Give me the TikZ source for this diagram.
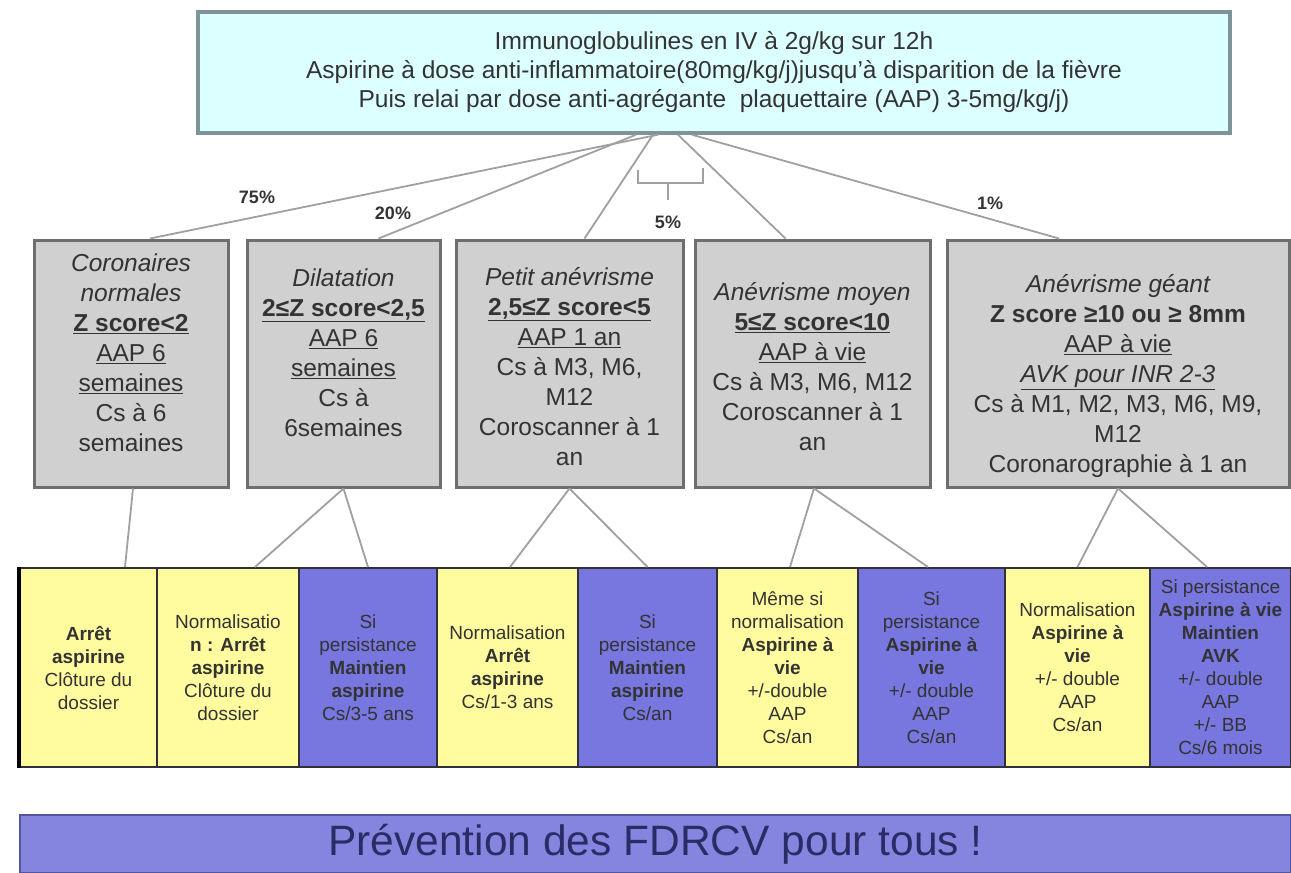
\documentclass[tikz,border=0pt]{standalone}
\usepackage{fontspec}
\setmainfont{Liberation Sans}
\usetikzlibrary{calc}
\definecolor{topfill}{HTML}{DCFFFF}
\definecolor{topline}{HTML}{7F9498}
\definecolor{grayfill}{HTML}{D0D0D0}
\definecolor{grayline}{HTML}{6E6E6E}
\definecolor{yel}{HTML}{FFFB9E}
\definecolor{blu}{HTML}{7777DF}
\definecolor{boxline}{HTML}{30303A}
\definecolor{conn}{HTML}{A0A0A0}
\definecolor{banfill}{HTML}{8585E0}
\definecolor{banline}{HTML}{55559A}
\definecolor{bantext}{HTML}{2B2B66}
\definecolor{txt}{HTML}{333333}
\begin{document}
\begin{tikzpicture}[x=1pt,y=-1pt,
  topbox/.style={draw=topline, line width=3.5pt, fill=topfill, minimum width=1032pt, minimum height=121pt, inner sep=0pt, align=center, text=txt, font=\fontsize{24.5}{29}\selectfont},
  graybox/.style={draw=grayline, line width=3pt, fill=grayfill, minimum height=247pt, inner sep=0pt},
  graytext/.style={inner sep=0pt, align=center, text=txt, font=\fontsize{24.5}{30}\selectfont},
  botbox/.style={draw=boxline, line width=2pt, minimum height=199pt, inner sep=0pt, align=center, text=txt, font=\fontsize{19}{23}\selectfont},
  yelbox/.style={botbox, fill=yel},
  blubox/.style={botbox, fill=blu},
  pct/.style={font=\fontsize{18}{20}\selectfont\bfseries, text=txt, inner sep=1pt},
  conline/.style={draw=conn, line width=1.8pt},
  banner/.style={draw=banline, line width=2pt, fill=banfill, minimum width=1271pt, minimum height=58pt, inner sep=0pt, text=bantext, font=\fontsize{42.5}{46}\selectfont}
]
\useasboundingbox[fill=white] (0,0) rectangle (1291,873);

% top box
\node[topbox] (top) at (714,72.5) {Immunoglobulines en IV à 2g/kg sur 12h\\
Aspirine à dose anti-inflammatoire(80mg/kg/j)jusqu'à disparition de la fièvre\\
Puis relai par dose anti-agrégante\ \ plaquettaire (AAP) 3-5mg/kg/j)};

% gray boxes
\node[graybox, minimum width=194pt] (g1) at (131,363.5) {};
\node[graybox, minimum width=193pt] (g2) at (343.5,363.5) {};
\node[graybox, minimum width=227pt] (g3) at (569.5,363.5) {};
\node[graybox, minimum width=235pt] (g4) at (812.5,363.5) {};
\node[graybox, minimum width=342pt] (g5) at (1118,363.5) {};
\node[graytext] (g1t) at ([yshift=11pt]g1.center) {\itshape Coronaires\\ \itshape normales\\ \underline{\bfseries Z score<2}\\ \underline{AAP 6}\\ \underline{semaines}\\ Cs à 6\\ semaines};
\node[graytext] (g2t) at ([yshift=11pt]g2.center) {\itshape Dilatation\\ \underline{\bfseries 2≤Z score<2,5}\\ \underline{AAP 6}\\ \underline{semaines}\\ Cs à\\ 6semaines};
\node[graytext] (g3t) at ([yshift=-3pt]g3.center) {\itshape Petit anévrisme\\ \underline{\bfseries 2,5≤Z score<5}\\ \underline{AAP 1 an}\\ Cs à M3, M6,\\ M12\\ Coroscanner à 1\\ an};
\node[graytext] (g4t) at ([yshift=-3pt]g4.center) {\itshape Anévrisme moyen\\ \underline{\bfseries 5≤Z score<10}\\ \underline{AAP à vie}\\ Cs à M3, M6, M12\\ Coroscanner à 1\\ an};
\node[graytext] (g5t) at ([yshift=-13pt]g5.center) {\itshape Anévrisme géant\\ {\bfseries Z score ≥10 ou ≥ 8mm}\\ \underline{AAP à vie}\\ \underline{\itshape AVK pour INR 2-3}\\ Cs à M1, M2, M3, M6, M9,\\ M12\\ Coronarographie à 1 an};

% bottom boxes
\node[yelbox, minimum width=137pt] (b1) at (88.5,667.5) {\bfseries Arrêt\\ \bfseries aspirine\\ Clôture du\\ dossier};
\node[yelbox, minimum width=142pt] (b2) at (228,667.5) {Normalisatio\\ {\bfseries n : Arrêt}\\ \bfseries aspirine\\ Clôture du\\ dossier};
\node[blubox, minimum width=138pt] (b3) at (368,667.5) {Si\\ persistance\\ \bfseries Maintien\\ \bfseries aspirine\\ Cs/3-5 ans};
\node[yelbox, minimum width=141pt] (b4) at (507.5,667.5) {Normalisation\\ \bfseries Arrêt\\ \bfseries aspirine\\ Cs/1-3 ans};
\node[blubox, minimum width=139pt] (b5) at (647.5,667.5) {Si\\ persistance\\ \bfseries Maintien\\ \bfseries aspirine\\ Cs/an};
\node[yelbox, minimum width=141pt] (b6) at (787.5,667.5) {Même si\\ normalisation\\ \bfseries Aspirine à\\ \bfseries vie\\ +/-double\\ AAP\\ Cs/an};
\node[blubox, minimum width=147pt] (b7) at (931.5,667.5) {Si\\ persistance\\ \bfseries Aspirine à\\ \bfseries vie\\ +/- double\\ AAP\\ Cs/an};
\node[yelbox, minimum width=145pt] (b8) at (1077.5,667.5) {Normalisation\\ \bfseries Aspirine à\\ \bfseries vie\\ +/- double\\ AAP\\ Cs/an};
\node[blubox, minimum width=141pt] (b9) at (1220.5,667.5) {Si persistance\\ \bfseries Aspirine à vie\\ \bfseries Maintien\\ \bfseries AVK\\ +/- double\\ AAP\\ +/- BB\\ Cs/6 mois};
\draw[black, line width=3.5pt] (b1.north west) -- (b1.south west);

% banner
\node[banner] (ban) at (655.5,844) {Prévention des FDRCV pour tous !};

% top connectors
\draw[conline] ([xshift=-56pt]top.south) -- ([xshift=19pt]g1.north);
\draw[conline] ([xshift=-78pt]top.south) -- ([xshift=35pt]g2.north);
\draw[conline] ([xshift=-61pt]top.south) -- ([xshift=15pt]g3.north);
\draw[conline] ([xshift=-36pt]top.south) -- ([xshift=-27pt]g4.north);
\draw[conline] ([xshift=-22pt]top.south) -- ([xshift=-59pt]g5.north);

% bracket for 5%
\draw[conline, line width=1.4pt] (638,170) -- (638,183) -- (703,183) -- (703,168);
\draw[conline, line width=1.4pt] (668,183) -- (668,200);

% percentages
\node[pct] (p1) at (257,197) {75\%};
\node[pct] (p2) at (393,213) {20\%};
\node[pct] (p3) at (668,222) {5\%};
\node[pct] (p4) at (990,203) {1\%};

% lower connectors
\draw[conline] ([xshift=2pt]g1.south) -- ([xshift=36.5pt]b1.north);
\draw[conline] (g2.south) -- ([xshift=27pt]b2.north);
\draw[conline] (g2.south) -- (b3.north);
\draw[conline] (g3.south) -- ([xshift=2.5pt]b4.north);
\draw[conline] (g3.south) -- (b5.north);
\draw[conline] ([xshift=1.5pt]g4.south) -- ([xshift=2.5pt]b6.north);
\draw[conline] ([xshift=1.5pt]g4.south) -- ([xshift=-3.5pt]b7.north);
\draw[conline] (g5.south) -- (b8.north);
\draw[conline] (g5.south) -- ([xshift=-13.5pt]b9.north);
\end{tikzpicture}
\end{document}
